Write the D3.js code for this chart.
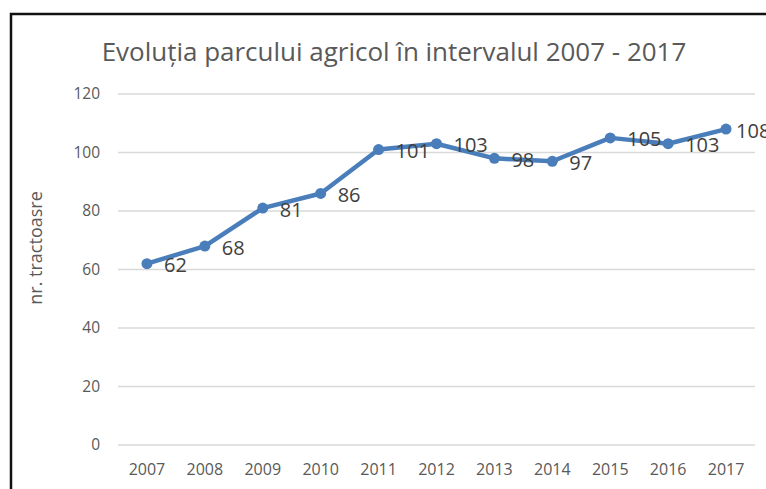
<!DOCTYPE html>
<meta charset="utf-8">
<style>
  body { margin: 0; background: #fff; overflow: hidden; }
  text { font-family: "Open Sans", "Noto Sans", sans-serif; }
</style>

<!-- Load d3.js -->
<script src="https://d3js.org/d3.v7.min.js"></script>

<!-- Create a div where the graph will take place -->
<div id="my_dataviz"></div>
<script>

  // data
  var years = ["2007", "2008", "2009", "2010", "2011", "2012", "2013", "2014", "2015", "2016", "2017"];
  var tractors = [62, 68, 81, 86, 101, 103, 98, 97, 105, 103, 108];
  var yTicks = [0, 20, 40, 60, 80, 100, 120];
  var chartTitle = "Evoluția parcului agricol în intervalul 2007 - 2017";
  var yTitle = "nr. tractoasre";

  var W = 766, H = 489;
  var margin = {top: 94, right: 11, bottom: 44, left: 118},
      width = W - margin.left - margin.right,
      height = H - margin.top - margin.bottom;

  var root = d3.select("#my_dataviz")
    .append("svg")
      .attr("width", W)
      .attr("height", H);

  // frame of the document box
  root.append("rect")
    .attr("x", 11)
    .attr("y", 14)
    .attr("width", W + 20)
    .attr("height", H + 20)
    .attr("fill", "none")
    .attr("stroke", "#111")
    .attr("stroke-width", 2.5);

  var svg = root.append("g")
    .attr("transform", "translate(" + margin.left + "," + margin.top + ")");

  // X scale: one band per year, point at band centre
  var x = d3.scaleBand()
    .domain(years)
    .range([0, width]);

  var y = d3.scaleLinear()
    .domain([0, 120])
    .range([height, 0]);

  var cx = function(d, i) { return x(years[i]) + x.bandwidth() / 2; };

  // gridlines
  svg.append("g")
    .selectAll("line")
    .data(yTicks)
    .enter()
    .append("line")
      .attr("x1", 0)
      .attr("x2", width)
      .attr("y1", function(d) { return y(d); })
      .attr("y2", function(d) { return y(d); })
      .attr("stroke", "#d9d9d9")
      .attr("stroke-width", 1.5);

  // Y axis labels
  var yAxis = svg.append("g")
    .call(d3.axisLeft(y).tickValues(yTicks).tickSize(0).tickPadding(18));
  yAxis.select(".domain").remove();
  yAxis.selectAll("text")
    .attr("fill", "#595959")
    .style("font-size", "15.5px");

  // X axis labels
  var xAxis = svg.append("g")
    .attr("transform", "translate(0," + height + ")")
    .call(d3.axisBottom(x).tickSize(0).tickPadding(19));
  xAxis.select(".domain").remove();
  xAxis.selectAll("text")
    .attr("fill", "#595959")
    .style("font-size", "16px");

  // line
  var line = d3.line()
    .x(cx)
    .y(function(d) { return y(d); });

  svg.append("path")
    .datum(tractors)
    .attr("fill", "none")
    .attr("stroke", "#4a7ebb")
    .attr("stroke-width", 4.5)
    .attr("stroke-linejoin", "round")
    .attr("d", line);

  // dots
  svg.append("g")
    .selectAll("circle")
    .data(tractors)
    .enter()
    .append("circle")
      .attr("cx", cx)
      .attr("cy", function(d) { return y(d); })
      .attr("r", 5.5)
      .attr("fill", "#4a7ebb");

  // value labels (last one is pulled in a bit, as in the picture)
  svg.append("g")
    .selectAll("text")
    .data(tractors)
    .enter()
    .append("text")
      .attr("x", function(d, i) { return cx(d, i) + (i === tractors.length - 1 ? 10 : 17); })
      .attr("y", function(d) { return y(d) + 1; })
      .attr("dominant-baseline", "central")
      .attr("fill", "#404040")
      .style("font-size", "20px")
      .text(function(d) { return d; });

  // title, sized to the width it takes in the picture
  var title = root.append("text")
    .attr("x", 394)
    .attr("y", 61)
    .attr("text-anchor", "middle")
    .attr("fill", "#595959")
    .style("font-size", "24px")
    .text(chartTitle);
  var tw = title.node().getComputedTextLength();
  title.style("font-size", (24 * 585 / tw) + "px");

  // Y axis title
  root.append("text")
    .attr("transform", "translate(42,248) rotate(-90)")
    .attr("text-anchor", "middle")
    .attr("fill", "#595959")
    .style("font-size", "18px")
    .text(yTitle);

</script>
